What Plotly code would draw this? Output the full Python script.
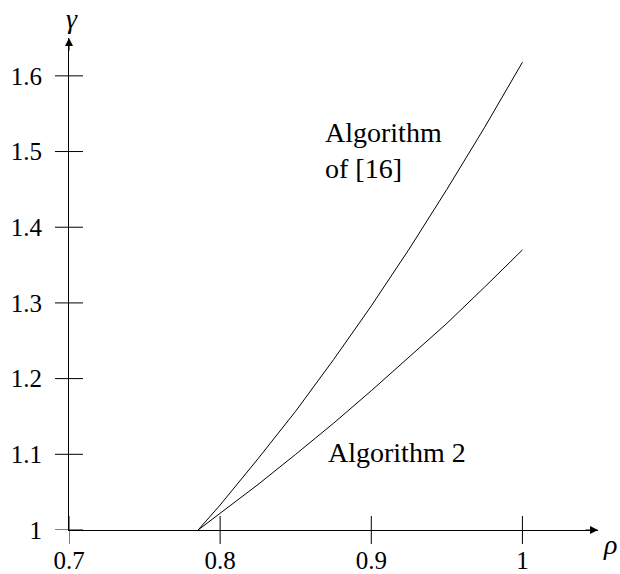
"""Comparison of gamma vs rho for two algorithms"""

import plotly.graph_objects as go

# data
rho = [0.7854, 0.80, 0.825, 0.85, 0.875, 0.90, 0.925, 0.95, 0.975, 1.0]
gamma_alg16 = [1.0, 1.033, 1.094, 1.157, 1.225, 1.296, 1.371, 1.450, 1.532, 1.618]
gamma_alg2 = [1.0, 1.022, 1.060, 1.100, 1.141, 1.184, 1.228, 1.273, 1.321, 1.370]

x_ticks = [0.7, 0.8, 0.9, 1.0]
x_tick_text = ["0.7", "0.8", "0.9", "1"]
y_ticks = [1.0, 1.1, 1.2, 1.3, 1.4, 1.5, 1.6]
y_tick_text = ["1", "1.1", "1.2", "1.3", "1.4", "1.5", "1.6"]

x_range = [0.7, 1.05]
y_range = [1.0, 1.65]

FONT = "Liberation Serif, Times New Roman, serif"
FONT_SIZE = 25
LABEL_SIZE = 28
TICK_LEN = 14

fig = go.Figure()

for ys in (gamma_alg16, gamma_alg2):
    fig.add_trace(
        go.Scatter(
            x=rho,
            y=ys,
            mode="lines",
            line=dict(color="black", width=1),
            hoverinfo="skip",
            showlegend=False,
        )
    )

# ticks cross the axis; drawn as shapes (paper ref on the cross direction so they are not clipped)
for xv in x_ticks:
    fig.add_shape(
        type="line", xref="x", yref="paper", ysizemode="pixel", yanchor=0,
        x0=xv, x1=xv, y0=-TICK_LEN, y1=TICK_LEN, line=dict(color="black", width=1),
    )
for yv in y_ticks:
    fig.add_shape(
        type="line", xref="paper", yref="y", xsizemode="pixel", xanchor=0,
        y0=yv, y1=yv, x0=-TICK_LEN, x1=TICK_LEN, line=dict(color="black", width=1),
    )

# axis arrows
fig.add_annotation(
    x=x_range[1], y=y_range[0], ax=-14, ay=0, text="", showarrow=True,
    arrowhead=2, arrowsize=1.6, arrowwidth=1, arrowcolor="black",
)
fig.add_annotation(
    x=x_range[0], y=y_range[1], ax=0, ay=14, text="", showarrow=True,
    arrowhead=2, arrowsize=1.6, arrowwidth=1, arrowcolor="black",
)

# axis titles
fig.add_annotation(
    x=x_range[0], y=y_range[1], text="<i>γ</i>", showarrow=False,
    yanchor="bottom", yshift=2, xshift=3, font=dict(size=LABEL_SIZE),
)
fig.add_annotation(
    x=x_range[1], y=y_range[0], text="<i>ρ</i>", showarrow=False,
    xanchor="left", xshift=3, yshift=-14, font=dict(size=LABEL_SIZE),
)

# curve labels
fig.add_annotation(
    x=0.868, y=1.502, text="Algorithm<br>of [16]", showarrow=False,
    xanchor="left", yanchor="middle", align="left", font=dict(size=LABEL_SIZE),
)
fig.add_annotation(
    x=0.870, y=1.102, text="Algorithm 2", showarrow=False,
    xanchor="left", yanchor="middle", font=dict(size=LABEL_SIZE),
)

axis_common = dict(
    showgrid=False,
    zeroline=False,
    showline=True,
    linecolor="black",
    linewidth=1,
    ticks="outside",
    tickwidth=1,
    tickcolor="rgba(0,0,0,0)",
    tickfont=dict(size=FONT_SIZE),
    automargin=False,
)

fig.update_xaxes(
    range=x_range, tickvals=x_ticks, ticktext=x_tick_text,
    ticklen=6, ticklabelstandoff=2, **axis_common
)
fig.update_yaxes(
    range=y_range, tickvals=y_ticks, ticktext=y_tick_text,
    ticklen=TICK_LEN, ticklabelstandoff=7, **axis_common
)

fig.update_layout(
    width=620,
    height=574,
    margin=dict(l=69, r=22, t=38, b=44),
    plot_bgcolor="white",
    paper_bgcolor="white",
    font=dict(family=FONT, size=FONT_SIZE, color="black"),
    showlegend=False,
)

# drop the default page margin so the figure fills the window
fig.write_html(
    "out.html",
    config={"displayModeBar": False},
    post_script="document.body.style.margin='0';document.body.style.overflow='hidden';",
)
